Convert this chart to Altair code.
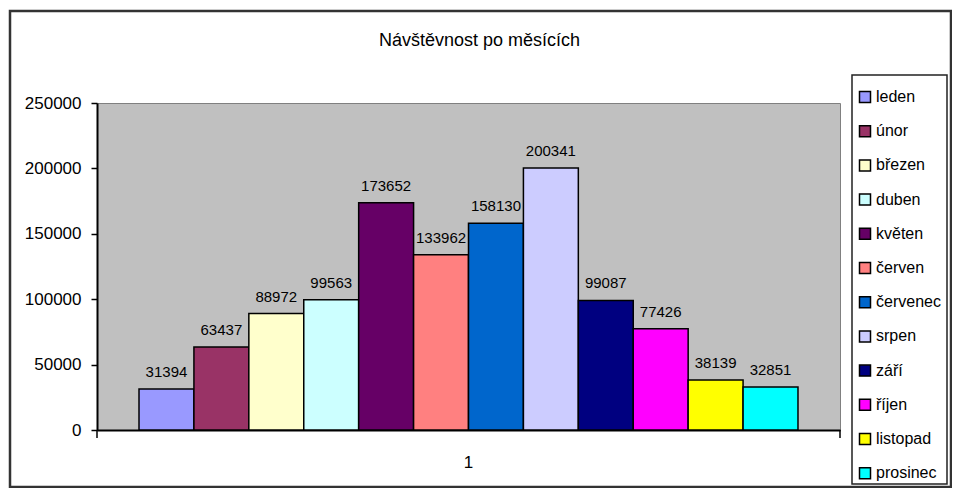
import altair as alt
import pandas as pd

months = ["leden", "únor", "březen", "duben", "květen", "červen",
          "červenec", "srpen", "září", "říjen", "listopad", "prosinec"]
values = [31394, 63437, 88972, 99563, 173652, 133962,
          158130, 200341, 99087, 77426, 38139, 32851]
colors = ["#9999FF", "#993366", "#FFFFCC", "#CCFFFF", "#660066", "#FF8080",
          "#0066CC", "#CCCCFF", "#000080", "#FF00FF", "#FFFF00", "#00FFFF"]
group = "1"
y_ticks = [0, 50000, 100000, 150000, 200000, 250000]

FONT = "Liberation Sans"
W, H = 743, 327

df = pd.DataFrame({"month": months, "value": values, "grp": [group] * len(months)})

x_enc = alt.X("grp:N", scale=alt.Scale(paddingInner=0, paddingOuter=0),
              axis=alt.Axis(title=None, ticks=False, labelAngle=0, labelFontSize=17,
                            labelFont=FONT, labelColor="black", labelPadding=24,
                            domainColor="black", domainWidth=2))
xo_enc = alt.XOffset("month:N", sort=months,
                     scale=alt.Scale(paddingInner=0, paddingOuter=0.765))
y_enc = alt.Y("value:Q", scale=alt.Scale(domain=[0, 250000], nice=False),
              axis=alt.Axis(values=y_ticks, format="d", title=None, grid=False,
                            domainColor="black", domainWidth=2, tickColor="black",
                            tickWidth=1.5, tickSize=6, labelFontSize=17, labelFont=FONT,
                            labelColor="black", labelPadding=10))

base = alt.Chart(df).encode(x=x_enc, xOffset=xo_enc)

bars = base.mark_bar(stroke="black", strokeWidth=1.5).encode(
    y=y_enc,
    color=alt.Color("month:N", scale=alt.Scale(domain=months, range=colors),
                    legend=alt.Legend(orient="none", legendX=760, legendY=-14, title=None,
                                      symbolType="square", symbolSize=121,
                                      symbolStrokeColor="black", symbolStrokeWidth=1.5,
                                      labelFontSize=16, labelFont=FONT, labelColor="black",
                                      rowPadding=16.2, padding=0, labelOffset=3)),
)

labels = base.mark_text(baseline="alphabetic", dy=-12, fontSize=15, font=FONT,
                        color="black").encode(y="value:Q", text="value:Q")

deco_df = pd.DataFrame({"d": [0]})
deco = alt.Chart(deco_df)
tick_left = deco.mark_rule(color="black", strokeWidth=1.5).encode(
    x=alt.value(0), y=alt.value(H), y2=alt.value(H + 8))
tick_right = deco.mark_rule(color="black", strokeWidth=1.5).encode(
    x=alt.value(W), y=alt.value(H), y2=alt.value(H + 8))
legend_box = deco.mark_rect(fillOpacity=0, stroke="#222222", strokeWidth=1.5).encode(
    x=alt.value(755), x2=alt.value(850), y=alt.value(-28), y2=alt.value(381))
frame = deco.mark_rect(fillOpacity=0, stroke="#333333", strokeWidth=2.5).encode(
    x=alt.value(-87), x2=alt.value(854), y=alt.value(-92), y2=alt.value(384))

chart = alt.layer(bars, labels, tick_left, tick_right, legend_box, frame).properties(
    width=W, height=H,
    title=alt.TitleParams("Návštěvnost po měsících", fontSize=18, font=FONT,
                          fontWeight="normal", color="black", frame="group",
                          anchor="middle", dx=11, dy=44),
    autosize=alt.AutoSizeParams(type="none"),
    padding={"left": 89, "top": 95, "right": 112, "bottom": 58},
    background="white",
).configure_view(fill="#C0C0C0", stroke="#808080", strokeWidth=1)

chart.save("out.html", embed_options={"renderer": "svg", "actions": False})
